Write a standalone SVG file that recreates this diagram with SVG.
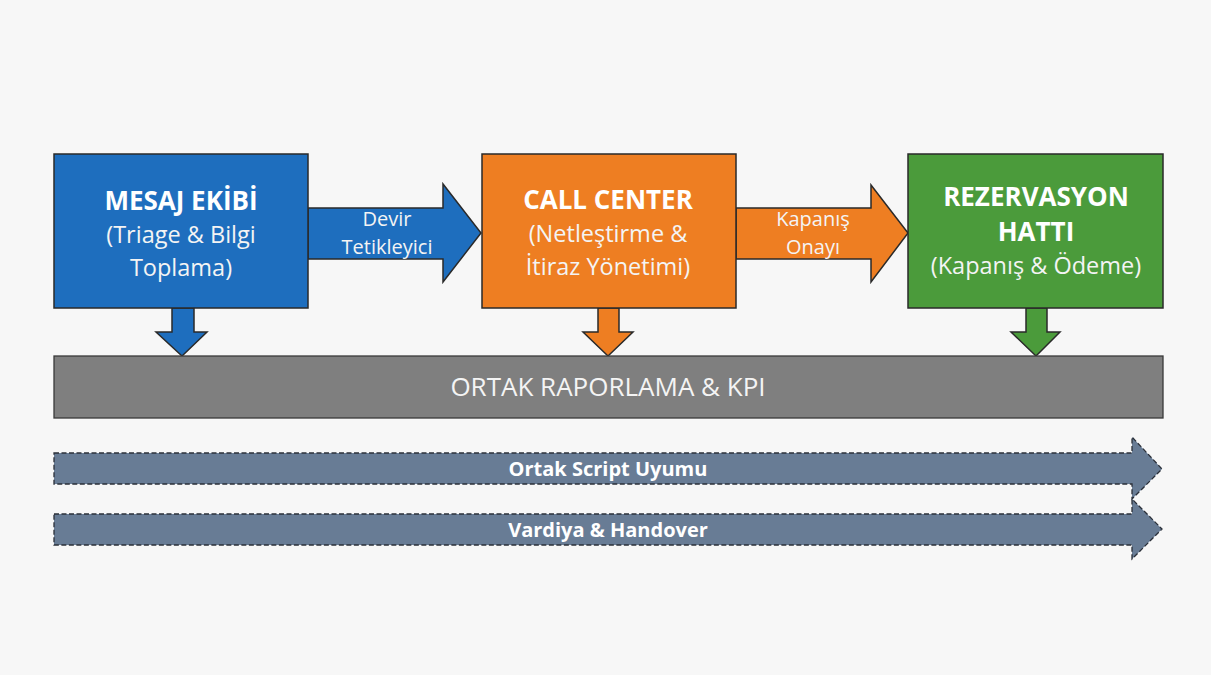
<svg xmlns="http://www.w3.org/2000/svg" width="1211" height="675" viewBox="0 0 1211 675">
  <style>
    .box { stroke: #2a2a2a; stroke-width: 1.5; }
    .blue { fill: #1E6EBE; }
    .orange { fill: #EE7E22; }
    .green { fill: #4B9B3B; }
    .title { font-family: "Open Sans", "Noto Sans", sans-serif; font-weight: bold; font-size: 26px; fill: #ffffff; text-anchor: middle; }
    .sub { font-family: "Open Sans", "Noto Sans", sans-serif; font-size: 23.5px; fill: #f4f4f4; text-anchor: middle; }
    .lbl { font-family: "Open Sans", "Noto Sans", sans-serif; font-size: 20px; fill: #f4f4f4; text-anchor: middle; }
    .band { fill: #687C95; stroke: #2a2f38; stroke-width: 1.3; stroke-dasharray: 5 2.5; }
    .bandtxt { font-family: "Open Sans", "Noto Sans", sans-serif; font-weight: bold; font-size: 20px; fill: #ffffff; text-anchor: middle; }
  </style>

  <rect x="0" y="0" width="1211" height="675" fill="#F7F7F7"/>

  <!-- connectors: flow arrows between stages and into the reporting bar -->
  <g id="connectors">
    <polygon class="box blue" points="308,208 443,208 443,184 481,233 443,282 443,259 308,259"/>
    <polygon class="box orange" points="736,208 871,208 871,185 908,233 871,282 871,259 736,259"/>
    <polygon class="box blue" points="172,308 194,308 194,332 207,332 182,356 156,332 172,332"/>
    <polygon class="box orange" points="598,308 619,308 619,332 633,332 608,356 583,332 598,332"/>
    <polygon class="box green" points="1026,308 1047,308 1047,332 1060,332 1036,356 1011,332 1026,332"/>
    <text class="lbl" x="387" y="226">Devir</text>
    <text class="lbl" x="387" y="254">Tetikleyici</text>
    <text class="lbl" x="813" y="226">Kapanış</text>
    <text class="lbl" x="813" y="254">Onayı</text>
  </g>

  <g id="node-mesaj">
    <rect class="box blue" x="54" y="154" width="254" height="154"/>
    <text class="title" x="181" y="210">MESAJ EKİBİ</text>
    <text class="sub" x="181" y="243">(Triage &amp; Bilgi</text>
    <text class="sub" x="181" y="276">Toplama)</text>
  </g>

  <g id="node-callcenter">
    <rect class="box orange" x="482" y="154" width="254" height="154"/>
    <text class="title" x="608" y="209">CALL CENTER</text>
    <text class="sub" x="608" y="242">(Netleştirme &amp;</text>
    <text class="sub" x="608" y="275">İtiraz Yönetimi)</text>
  </g>

  <g id="node-rezervasyon">
    <rect class="box green" x="908" y="154" width="255" height="154"/>
    <text class="title" x="1036" y="206">REZERVASYON</text>
    <text class="title" x="1036" y="241">HATTI</text>
    <text class="sub" x="1036" y="274">(Kapanış &amp; Ödeme)</text>
  </g>

  <g id="node-raporlama">
    <rect x="54" y="356" width="1109" height="62" fill="#7F7F7F" stroke="#3a3a3a" stroke-width="1.3"/>
    <text x="608" y="396" font-family="Open Sans, Noto Sans, sans-serif" font-size="26" fill="#f4f4f4" text-anchor="middle">ORTAK RAPORLAMA &amp; KPI</text>
  </g>

  <g id="band-script">
    <polygon class="band" points="54,453 1132,453 1132,437 1162,469 1132,499 1132,484 54,484"/>
    <text class="bandtxt" x="608" y="476">Ortak Script Uyumu</text>
  </g>

  <g id="band-vardiya">
    <polygon class="band" points="54,514 1132,514 1132,499 1162,529 1132,559 1132,545 54,545"/>
    <text class="bandtxt" x="608" y="537">Vardiya &amp; Handover</text>
  </g>
</svg>
